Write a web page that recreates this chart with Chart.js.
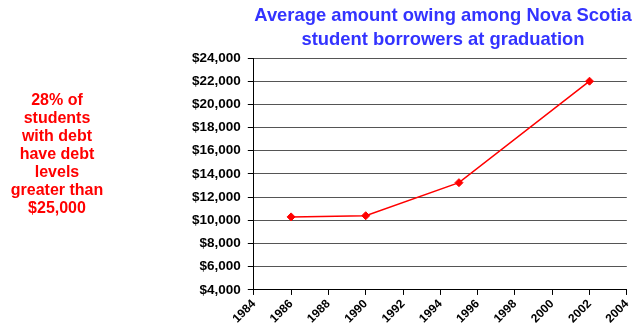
<!DOCTYPE html>
<html>
<head>
<meta charset="utf-8">
<title>Average amount owing</title>
<script src="https://cdn.jsdelivr.net/npm/chart.js@4/dist/chart.umd.min.js"></script>
<style>
  html, body { margin: 0; padding: 0; background: #fff; }
  #wrap { position: relative; width: 639px; height: 328px; }
  #chart { position: absolute; left: 0; top: 0; }
  #title {
    position: absolute; left: 253px; width: 380px; top: 3px;
    text-align: center; white-space: nowrap;
    font: bold 18.4px "Liberation Sans", Arial, sans-serif; line-height: 23.6px;
    color: #3333ff;
  }
  #note {
    position: absolute; left: 0; width: 114px; top: 91px;
    text-align: center;
    font: bold 16px "Liberation Sans", Arial, sans-serif; line-height: 18px;
    color: #ff0000;
  }
</style>
</head>
<body>
<div id="wrap">
  <canvas id="chart" width="639" height="328"></canvas>
  <div id="title">Average amount owing among Nova Scotia<br>student borrowers at graduation</div>
  <div id="note">28% of<br>students<br>with debt<br>have debt<br>levels<br>greater than<br>$25,000</div>
</div>
<script>
'use strict';

// graduation years and average amount owing (dollars)
const years = [1986, 1990, 1995, 2002];
const owing = [10300, 10400, 13250, 22000];

// axis ranges
const yearMin = 1984;
const yearMax = 2004;
const yearStep = 2;
const owingMin = 4000;
const owingMax = 24000;
const owingStep = 2000;

const points = years.map((year, i) => ({ x: year, y: owing[i] }));

const ctx = document.getElementById('chart').getContext('2d');
new Chart(ctx, {
  type: 'line',
  data: {
    datasets: [{
      label: 'Average amount owing',
      data: points,
      borderColor: '#ff0000',
      backgroundColor: '#ff0000',
      borderWidth: 1.5,
      pointStyle: 'rectRot',
      pointRadius: 4,
      pointBorderWidth: 1,
      tension: 0,
    }]
  },
  options: {
    responsive: false,
    animation: false,
    layout: {
      padding: { left: 185, right: 8, top: 58, bottom: 0 }
    },
    plugins: {
      legend: { display: false },
      title: { display: false },
      tooltip: { enabled: false },
    },
    scales: {
      x: {
        type: 'linear',
        min: yearMin,
        max: yearMax,
        border: { color: '#000', width: 1 },
        grid: {
          drawOnChartArea: false,
          tickColor: '#000',
          tickLength: 5,
        },
        ticks: {
          stepSize: yearStep,
          color: '#000',
          minRotation: 45,
          maxRotation: 45,
          padding: 2,
          font: { family: 'Liberation Sans, Arial, sans-serif', size: 12, weight: 'bold' },
          callback: (value) => String(value),
        },
      },
      y: {
        min: owingMin,
        max: owingMax,
        border: { color: '#000', width: 1 },
        grid: {
          color: '#555',
          tickColor: '#000',
          tickLength: 6,
        },
        ticks: {
          stepSize: owingStep,
          color: '#000',
          padding: 7,
          font: { family: 'Liberation Sans, Arial, sans-serif', size: 13.5, weight: 'bold' },
          callback: (value) => '$' + value.toLocaleString('en-US'),
        },
      },
    },
  },
});
</script>
</body>
</html>
